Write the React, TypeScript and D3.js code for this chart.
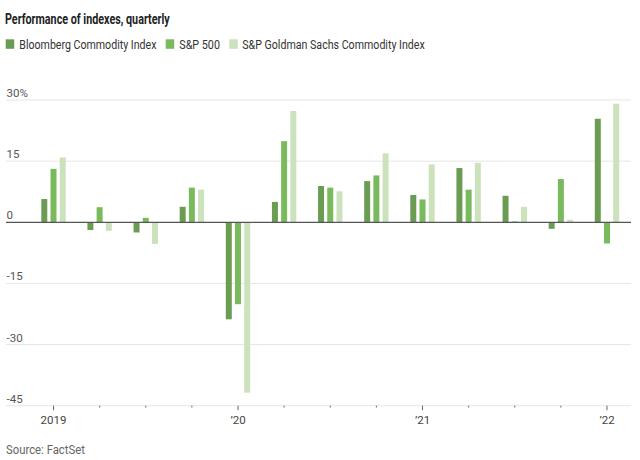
import React, { useLayoutEffect, useRef, useState } from "react";
import * as d3 from "d3";

const quarters = ["2019Q1","2019Q2","2019Q3","2019Q4","2020Q1","2020Q2","2020Q3","2020Q4","2021Q1","2021Q2","2021Q3","2021Q4","2022Q1"];
const seriesNames = ["Bloomberg Commodity Index", "S&P 500", "S&P Goldman Sachs Commodity Index"];
const bloomberg = [5.7, -1.9, -2.5, 3.8, -23.8, 5.0, 8.9, 10.1, 6.7, 13.3, 6.5, -1.6, 25.4];
const sp500 = [13.1, 3.7, 1.1, 8.5, -20.1, 19.9, 8.5, 11.5, 5.6, 8.0, 0.2, 10.6, -5.2];
const gsci = [15.9, -2.1, -5.3, 8.0, -41.8, 27.3, 7.6, 16.9, 14.2, 14.6, 3.8, 0.6, 29.1];
const yTicks = [30, 15, 0, -15, -30, -45];
const xLabels: Record<string, string> = { "2019Q1": "2019", "2020Q1": "\u201920", "2021Q1": "\u201921", "2022Q1": "\u201922" };
const colors = ["#6a9d52", "#79ba5d", "#cbe2bd"];

function FitText(props: { x: number; y: number; width: number; fontSize: number; fill: string; fontWeight?: number; children: string }) {
  const ref = useRef<SVGTextElement>(null);
  const [sx, setSx] = useState(1);
  useLayoutEffect(() => {
    if (ref.current) {
      const w = ref.current.getComputedTextLength();
      if (w > 0) setSx(props.width / w);
    }
  }, [props.width, props.children]);
  return (
    <text ref={ref} transform={`translate(${props.x},${props.y}) scale(${sx},1)`} fontSize={props.fontSize} fontWeight={props.fontWeight} fill={props.fill}>
      {props.children}
    </text>
  );
}

export default function App() {
  const W = 640, H = 460;
  const left = 6, right = 631;
  const x = d3.scalePoint<string>().domain(quarters).range([53.5, 607]);
  const inner = d3.scaleBand<string>().domain(seriesNames).range([-12.2, 12.2]).paddingInner(0.35);
  const y = d3.scaleLinear().domain([-45, 30]).range([405.7, 100]);
  const data = [bloomberg, sp500, gsci];
  const font = "Roboto, 'Noto Sans', sans-serif";

  const legendItems = [
    { sq: 5.7, tx: 19.3, tw: 137.4 },
    { sq: 165.7, tx: 179.3, tw: 40.7 },
    { sq: 229.3, tx: 242.3, tw: 182.7 },
  ];

  return (
    <svg width={W} height={H} style={{ position: "absolute", left: 0, top: 0, background: "#fff" }} fontFamily={font}>
      <FitText x={5} y={23.5} width={165} fontSize={14} fontWeight={700} fill="#222">Performance of indexes, quarterly</FitText>
      {seriesNames.map((s, i) => (
        <g key={s}>
          <rect x={legendItems[i].sq} y={39.3} width={8.5} height={9.5} fill={colors[i]} />
          <FitText x={legendItems[i].tx} y={48.8} width={legendItems[i].tw} fontSize={13.5} fill="#333">{s}</FitText>
        </g>
      ))}
      {yTicks.map((t) => (
        <g key={t}>
          {t !== 0 && <line x1={left} x2={right} y1={y(t)} y2={y(t)} stroke="#e6e6e6" strokeWidth={1} />}
          <text x={6.5} y={y(t) - 3} fontSize={11.5} fill="#555">{t === 30 ? "30%" : String(t)}</text>
        </g>
      ))}
      {quarters.map((q, i) => (
        <g key={q}>
          {data.map((arr, si) => {
            const v = arr[i];
            const bx = (x(q) as number) + (inner(seriesNames[si]) as number);
            const y0 = y(0), y1 = y(v);
            return (
              <rect key={si} x={bx} width={inner.bandwidth()} y={Math.min(y0, y1)} height={Math.abs(y1 - y0)} fill={colors[si]} />
            );
          })}
          <line x1={x(q)} x2={x(q)} y1={y(-45)} y2={y(-45) + (xLabels[q] ? 4.5 : 1.8)} stroke="#666" strokeWidth={1} />
          {xLabels[q] && (
            <text x={x(q)} y={424} textAnchor="middle" fontSize={11.5} fill="#444">{xLabels[q]}</text>
          )}
        </g>
      ))}
      <line x1={left} x2={right} y1={y(0)} y2={y(0)} stroke="#555" strokeWidth={1.2} />
      <FitText x={6} y={454} width={79} fontSize={12.5} fill="#666">Source: FactSet</FitText>
    </svg>
  );
}
